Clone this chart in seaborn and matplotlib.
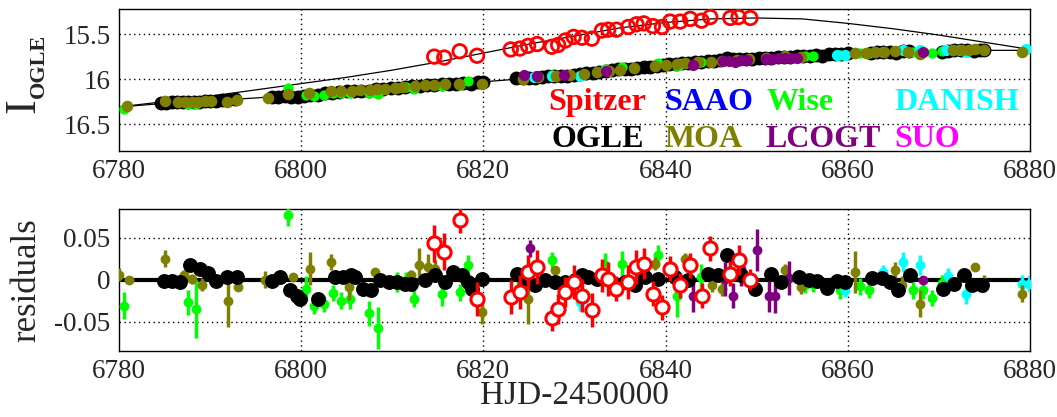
import matplotlib
matplotlib.use("Agg")
import matplotlib.pyplot as plt
import seaborn as sns
import numpy as np

# ---------------- data ----------------
# model curves (top panel)
model_t = [6780, 6785, 6790, 6795, 6800, 6805, 6810, 6815, 6820, 6825, 6830, 6835, 6840,
           6845, 6850, 6855, 6860, 6865, 6870, 6875, 6880]
ground_model = [16.31, 16.27, 16.24, 16.21, 16.17, 16.13, 16.10, 16.07, 16.03, 15.99, 15.95,
                15.89, 15.84, 15.80, 15.77, 15.74, 15.715, 15.70, 15.685, 15.68, 15.68]
spitzer_model = [16.31, 16.25, 16.19, 16.12, 16.05, 15.98, 15.90, 15.81, 15.71, 15.61, 15.52,
                 15.43, 15.37, 15.33, 15.32, 15.33, 15.38, 15.44, 15.51, 15.59, 15.67]

# OGLE (top)
ogle_t = [6784.6, 6785.2, 6785.8, 6786.4, 6787.0, 6787.6, 6788.2, 6788.8, 6789.4, 6790.0, 6790.6,
          6791.3, 6792.0, 6792.7,
          6796.8, 6797.5, 6798.2, 6798.9, 6799.6, 6800.3, 6801.0, 6801.8, 6802.6, 6803.4, 6804.2,
          6805.0, 6805.8, 6806.6, 6807.4, 6808.2, 6809.0, 6809.8, 6810.6, 6811.4, 6812.2, 6813.0,
          6813.8, 6814.6, 6815.4, 6816.2, 6817.0, 6817.8, 6818.6, 6819.4, 6820.0,
          6823.6, 6824.3, 6825.0, 6825.7, 6826.4, 6827.1, 6827.8, 6828.5, 6829.2, 6829.9, 6830.6,
          6831.3, 6832.0, 6832.7, 6833.4, 6834.1, 6834.8, 6835.5, 6836.2, 6836.9, 6837.6, 6838.3,
          6839.0, 6839.7, 6840.4, 6841.1, 6841.8, 6842.5, 6843.2, 6843.9, 6844.6, 6845.3, 6846.0,
          6846.7, 6847.4, 6848.1, 6848.8, 6849.5, 6850.2, 6850.9, 6851.6, 6852.3, 6853.0, 6853.7,
          6854.4, 6855.1, 6855.8, 6856.5, 6857.2, 6857.9, 6858.6, 6859.3, 6860.0, 6862.5, 6863.2,
          6863.9, 6864.6, 6865.3, 6866.0, 6866.7, 6870.3, 6871.0, 6871.7, 6872.4, 6873.1, 6873.8,
          6874.5, 6875.0]
ogle_mag = [16.27, 16.27, 16.26, 16.26, 16.25, 16.25, 16.25, 16.25, 16.24, 16.24, 16.24,
            16.23, 16.23, 16.22,
            16.20, 16.20, 16.19, 16.20, 16.20, 16.19, 16.18, 16.18, 16.16, 16.15, 16.14,
            16.13, 16.13, 16.13, 16.13, 16.11, 16.11, 16.10, 16.10, 16.09, 16.08, 16.08,
            16.07, 16.07, 16.06, 16.05, 16.05, 16.04, 16.05, 16.03, 16.03,
            15.99, 15.99, 15.99, 15.99, 15.98, 15.97, 15.97, 15.96, 15.96, 15.95, 15.94,
            15.93, 15.93, 15.92, 15.91, 15.90, 15.89, 15.89, 15.89, 15.88, 15.86, 15.86,
            15.85, 15.84, 15.83, 15.83, 15.82, 15.82, 15.81, 15.81, 15.80, 15.80, 15.79,
            15.76, 15.78, 15.78, 15.78, 15.78, 15.77, 15.76, 15.76, 15.75, 15.75, 15.75,
            15.74, 15.74, 15.74, 15.73, 15.74, 15.72, 15.72, 15.72, 15.71, 15.71, 15.70,
            15.70, 15.70, 15.71, 15.69, 15.69, 15.70, 15.69, 15.68, 15.68, 15.68, 15.69,
            15.68, 15.68]

# MOA (top)
moa_t = [6780.9, 6785.0, 6786.5, 6787.2, 6788.0, 6788.7, 6789.4, 6790.1, 6791.9, 6793.0, 6796.3,
         6798.5, 6800.9, 6803.3, 6804.4, 6805.6, 6806.5, 6807.5, 6808.3, 6809.2, 6810.3, 6811.2,
         6812.5, 6813.6, 6814.6, 6815.8, 6817.3, 6819.8, 6824.3, 6826.0, 6828.0, 6829.5, 6831.0,
         6832.5, 6833.8, 6835.0, 6836.5, 6838.8, 6840.0, 6841.3, 6842.1, 6843.5, 6845.0, 6846.2,
         6847.8, 6849.2, 6851.0, 6853.1, 6854.9, 6860.8, 6862.0, 6863.0, 6864.0, 6865.2, 6866.6,
         6867.9, 6871.5, 6872.5, 6873.3, 6874.0, 6874.9, 6879.1]
moa_mag = [16.30, 16.24, 16.26, 16.25, 16.25, 16.25, 16.24, 16.24, 16.25, 16.23, 16.21,
           16.17, 16.16, 16.13, 16.13, 16.13, 16.12, 16.12, 16.11, 16.11, 16.10, 16.09,
           16.08, 16.07, 16.07, 16.06, 16.05, 16.06, 16.00, 15.98, 15.96, 15.95, 15.94,
           15.92, 15.91, 15.90, 15.88, 15.85, 15.84, 15.83, 15.82, 15.81, 15.81, 15.80,
           15.79, 15.78, 15.77, 15.74, 15.75, 15.71, 15.71, 15.70, 15.70, 15.69, 15.70,
           15.72, 15.68, 15.68, 15.68, 15.67, 15.68, 15.70]

# Wise (top)
wise_t = [6780.5, 6787.6, 6788.4, 6798.5, 6800.5, 6801.4, 6802.5, 6803.5, 6804.4, 6805.3, 6807.4,
          6808.4, 6810.5, 6811.5, 6812.4, 6815.4, 6817.4, 6818.3, 6827.5, 6833.3, 6835.2, 6839.2,
          6841.2, 6843.9, 6855.3, 6856.2, 6859.1, 6861.3, 6862.3, 6867.2, 6868.3, 6869.2, 6870.3]
wise_mag = [16.33, 16.28, 16.28, 16.10, 16.18, 16.19, 16.18, 16.16, 16.16, 16.15, 16.16,
            16.17, 16.10, 16.09, 16.11, 16.08, 16.07, 16.02, 15.95, 15.89, 15.87, 15.82,
            15.85, 15.81, 15.74, 15.74, 15.73, 15.71, 15.71, 15.70, 15.70, 15.71, 15.69]

# LCOGT (top)
lcogt_t = [6824.4, 6825.9, 6828.8, 6833.5, 6843.0, 6846.3, 6847.0, 6847.6, 6848.3, 6848.9,
           6851.0, 6851.7, 6852.4, 6853.1, 6853.8, 6854.4, 6868.3]
lcogt_mag = [15.95, 15.97, 15.95, 15.91, 15.84, 15.80, 15.80, 15.81, 15.79, 15.79,
             15.78, 15.78, 15.77, 15.76, 15.76, 15.76, 15.70]

# DANISH (top)
danish_t = [6825.5, 6827.5, 6830.6, 6841.6, 6858.8, 6859.7, 6863.9, 6866.1, 6867.9, 6870.8,
            6871.5, 6872.3, 6873.0, 6879.6]
danish_mag = [15.98, 15.97, 15.97, 15.83, 15.73, 15.73, 15.70, 15.68, 15.68, 15.68,
              15.68, 15.68, 15.70, 15.67]

# Spitzer (top and residuals share the epochs)
spitzer_t = [6814.6, 6815.7, 6817.4, 6819.3, 6823.0, 6824.0, 6824.9, 6825.9, 6827.5, 6828.2,
             6829.0, 6829.9, 6830.8, 6831.9, 6833.0, 6833.7, 6834.6, 6835.9, 6836.8, 6837.6,
             6838.6, 6839.6, 6840.5, 6841.6, 6842.7, 6843.95, 6844.9, 6847.1, 6848.0, 6849.3]
spitzer_mag = [15.75, 15.76, 15.69, 15.74, 15.67, 15.66, 15.63, 15.61, 15.64, 15.62,
               15.57, 15.53, 15.54, 15.55, 15.46, 15.45, 15.45, 15.42, 15.39, 15.38,
               15.41, 15.42, 15.36, 15.36, 15.33, 15.35, 15.31, 15.32, 15.31, 15.32]
spitzer_res = [0.043, 0.033, 0.071, -0.023, -0.021, -0.015, 0.009, 0.015, -0.046, -0.035,
               -0.015, -0.003, -0.019, -0.036, 0.005, 0.001, -0.011, -0.003, 0.015, 0.019,
               -0.017, -0.033, 0.013, -0.007, 0.017, -0.019, 0.037, 0.007, 0.023, 0.0]
spitzer_err = [0.022, 0.022, 0.015, 0.02, 0.02, 0.02, 0.02, 0.02, 0.015, 0.018,
               0.018, 0.02, 0.02, 0.02, 0.02, 0.02, 0.015, 0.02, 0.02, 0.018,
               0.015, 0.015, 0.015, 0.015, 0.015, 0.015, 0.015, 0.015, 0.018, 0.012]

# residuals
ogle_rt = [6784.9, 6785.8, 6786.7, 6787.8, 6788.9, 6789.8, 6790.7, 6791.8, 6792.9, 6796.8, 6797.7,
           6798.8, 6799.5, 6799.9, 6801.8, 6803.7, 6804.6, 6805.5, 6805.9, 6806.8, 6807.7, 6808.7,
           6809.6, 6810.5, 6811.4, 6812.0, 6813.6, 6814.7, 6815.8, 6816.7, 6817.6, 6818.3, 6818.7,
           6819.8, 6823.7, 6824.6, 6825.7, 6826.8, 6827.9, 6829.0, 6830.1, 6830.8, 6831.5, 6832.5,
           6833.7, 6835.5, 6836.6, 6837.7, 6839.2, 6841.0, 6842.5, 6844.7, 6845.8, 6846.7, 6848.3,
           6849.8, 6851.6, 6852.7, 6854.6, 6855.7, 6856.6, 6857.7, 6858.8, 6859.7, 6862.6, 6863.7,
           6864.6, 6865.5, 6866.8, 6870.5, 6871.6, 6872.7, 6873.6, 6874.7]
ogle_res = [-0.002, -0.002, -0.003, 0.017, 0.013, 0.008, -0.002, 0.003, 0.003, -0.002, 0.003,
            -0.013, -0.019, -0.023, -0.023, 0.003, 0.003, 0.005, 0.003, -0.011, -0.013, -0.001,
            -0.003, -0.003, -0.005, -0.005, 0.0, 0.005, -0.003, 0.009, 0.005, -0.003, -0.011,
            0.001, 0.007, 0.001, -0.007, -0.001, -0.003, -0.003, -0.001, 0.005, 0.003, 0.001,
            0.001, -0.003, -0.007, 0.003, 0.001, 0.003, -0.001, 0.007, 0.005, 0.029, 0.005,
            -0.011, 0.007, -0.003, 0.003, 0.0, -0.002, -0.010, -0.002, -0.003, 0.002, 0.002,
            -0.003, -0.013, 0.005, -0.011, -0.005, 0.006, -0.007, -0.007]

moa_rt = [6780.0, 6781.1, 6785.05, 6787.1, 6788.0, 6789.1, 6792.0, 6793.1, 6796.0, 6799.1, 6801.0,
          6803.3, 6805.2, 6808.1, 6812.1, 6812.9, 6813.9, 6814.7, 6819.8, 6823.8, 6824.9, 6827.9,
          6838.8, 6842.1, 6845.05, 6846.2, 6853.1, 6854.9, 6860.8, 6865.2, 6865.9, 6867.9, 6874.0,
          6874.9, 6879.1]
moa_res = [0.006, 0.0, 0.025, 0.005, 0.001, -0.006, -0.026, -0.009, 0.0, 0.003, 0.013,
           0.021, -0.009, 0.009, 0.005, 0.017, 0.015, 0.013, -0.038, -0.011, -0.023, 0.011,
           0.019, 0.024, -0.007, -0.011, 0.011, -0.009, 0.009, 0.011, -0.006, -0.029, 0.015,
           -0.005, -0.017]
moa_err = [0.008, 0.004, 0.01, 0.006, 0.006, 0.008, 0.03, 0.005, 0.01, 0.004, 0.02,
           0.01, 0.015, 0.005, 0.006, 0.02, 0.015, 0.01, 0.015, 0.01, 0.03, 0.005,
           0.008, 0.008, 0.008, 0.008, 0.008, 0.008, 0.025, 0.01, 0.01, 0.016, 0.004,
           0.01, 0.01]

wise_res = [-0.031, -0.027, -0.035, 0.077, -0.011, -0.031, -0.029, -0.016, -0.025, -0.023, -0.040,
            -0.058, -0.003, -0.001, -0.023, -0.017, -0.015, 0.017, 0.023, 0.017, 0.019, 0.029,
            -0.019, 0.003, -0.006, -0.005, -0.013, -0.008, -0.012, -0.013, -0.013, -0.022, -0.004]
wise_err = [0.016, 0.015, 0.035, 0.013, 0.015, 0.01, 0.01, 0.01, 0.01, 0.012, 0.015,
            0.025, 0.012, 0.01, 0.01, 0.015, 0.01, 0.012, 0.01, 0.015, 0.015, 0.012,
            0.025, 0.015, 0.01, 0.01, 0.01, 0.01, 0.01, 0.01, 0.01, 0.01, 0.01]

lcogt_rt = [6825.1, 6843.0, 6846.5, 6847.4, 6848.3, 6850.0, 6851.3, 6852.0, 6853.5, 6868.3]
lcogt_res = [0.037, -0.019, 0.001, -0.019, 0.012, 0.035, -0.019, -0.020, 0.002, 0.0]
lcogt_err = [0.01, 0.02, 0.02, 0.015, 0.02, 0.025, 0.02, 0.02, 0.02, 0.004]

danish_rt = [6830.6, 6841.6, 6859.7, 6863.9, 6866.1, 6867.9, 6871.0, 6873.0, 6879.1, 6879.9]
danish_res = [-0.027, -0.010, -0.013, 0.009, 0.021, 0.017, 0.004, -0.017, -0.005, -0.005]
danish_err = [0.01, 0.01, 0.008, 0.008, 0.012, 0.012, 0.01, 0.012, 0.01, 0.01]

legend_row1 = ["Spitzer", "SAAO", "Wise", "DANISH"]
legend_row2 = ["OGLE", "MOA", "LCOGT", "SUO"]
colors = {"Spitzer": "#ff0000", "SAAO": "#0000ff", "Wise": "#00ff00", "DANISH": "#00ffff",
          "OGLE": "#000000", "MOA": "#808000", "LCOGT": "#800080", "SUO": "#ff00ff"}

xticks = [6780, 6800, 6820, 6840, 6860, 6880]
top_yticks = [15.5, 16, 16.5]
top_yticklabels = ["15.5", "16", "16.5"]
bot_yticks = [-0.05, 0, 0.05]
bot_yticklabels = ["-0.05", "0", "0.05"]

# ---------------- style ----------------
sns.set_style("white")
plt.rcParams["font.family"] = "serif"
plt.rcParams["font.serif"] = ["Liberation Serif", "DejaVu Serif"]
SERIF = ["Liberation Serif", "DejaVu Serif"]

fig = plt.figure(figsize=(10.57, 4.17), dpi=100)
ax1 = fig.add_axes([0.1126, 0.6379, 0.8619, 0.3405])
ax2 = fig.add_axes([0.1126, 0.1583, 0.8619, 0.3405])

grid_kw = dict(color="black", linestyle=(0, (1, 2.5)), linewidth=1.0)

# ---------------- top panel ----------------
sns.lineplot(x=model_t, y=spitzer_model, ax=ax1, color="black", linewidth=0.9, sort=False,
             estimator=None, zorder=2)
sns.lineplot(x=model_t, y=ground_model, ax=ax1, color="black", linewidth=0.9, sort=False,
             estimator=None, zorder=2)
sns.scatterplot(x=ogle_t, y=ogle_mag, ax=ax1, color=colors["OGLE"], s=100, linewidth=0, zorder=3)
sns.scatterplot(x=wise_t, y=wise_mag, ax=ax1, color=colors["Wise"], s=55, linewidth=0, zorder=4)
sns.scatterplot(x=danish_t, y=danish_mag, ax=ax1, color=colors["DANISH"], s=65, linewidth=0, zorder=4)
sns.scatterplot(x=moa_t, y=moa_mag, ax=ax1, color=colors["MOA"], s=70, linewidth=0, zorder=5)
sns.scatterplot(x=lcogt_t, y=lcogt_mag, ax=ax1, color=colors["LCOGT"], s=65, linewidth=0, zorder=6)
sns.scatterplot(x=spitzer_t, y=spitzer_mag, ax=ax1, facecolor="none", edgecolor=colors["Spitzer"],
                s=95, linewidth=2.0, zorder=7)

ax1.set_xlim(6780, 6880)
ax1.set_ylim(16.8, 15.22)
ax1.set_xticks(xticks)
ax1.set_yticks(top_yticks)
ax1.set_yticklabels(top_yticklabels)
for v in xticks[1:-1]:
    ax1.axvline(v, zorder=1, **grid_kw)
for v in top_yticks:
    ax1.axhline(v, zorder=1, **grid_kw)

xs = [0.471, 0.599, 0.711, 0.851]
for name, x in zip(legend_row1, xs):
    ax1.text(x, 0.289, name, transform=ax1.transAxes, color=colors[name], fontsize=23,
             fontweight="bold", family=SERIF, ha="left", va="baseline", zorder=10)
for name, x in zip(legend_row2, [0.475, 0.599, 0.710, 0.851]):
    ax1.text(x, 0.028, name, transform=ax1.transAxes, color=colors[name], fontsize=23,
             fontweight="bold", family=SERIF, ha="left", va="baseline", zorder=10)

# ---------------- bottom panel ----------------
ax2.axhline(0, color="black", linewidth=3, zorder=2)
err_kw = dict(fmt="none", elinewidth=2.5, capsize=0)
ax2.errorbar(wise_t, wise_res, yerr=wise_err, ecolor=colors["Wise"], zorder=3, **err_kw)
sns.scatterplot(x=wise_t, y=wise_res, ax=ax2, color=colors["Wise"], s=50, linewidth=0, zorder=3)
ax2.errorbar(danish_rt, danish_res, yerr=danish_err, ecolor=colors["DANISH"], zorder=3, **err_kw)
sns.scatterplot(x=danish_rt, y=danish_res, ax=ax2, color=colors["DANISH"], s=50, linewidth=0, zorder=3)
ax2.errorbar(moa_rt, moa_res, yerr=moa_err, ecolor=colors["MOA"], zorder=4, **err_kw)
sns.scatterplot(x=moa_rt, y=moa_res, ax=ax2, color=colors["MOA"], s=50, linewidth=0, zorder=4)
ax2.errorbar(lcogt_rt, lcogt_res, yerr=lcogt_err, ecolor=colors["LCOGT"], zorder=4, **err_kw)
sns.scatterplot(x=lcogt_rt, y=lcogt_res, ax=ax2, color=colors["LCOGT"], s=50, linewidth=0, zorder=4)
sns.scatterplot(x=ogle_rt, y=ogle_res, ax=ax2, color=colors["OGLE"], s=115, linewidth=0, zorder=5)
ax2.errorbar(spitzer_t, spitzer_res, yerr=spitzer_err, ecolor=colors["Spitzer"], zorder=6, **err_kw)
sns.scatterplot(x=spitzer_t, y=spitzer_res, ax=ax2, facecolor="white", edgecolor=colors["Spitzer"],
                s=90, linewidth=2.2, zorder=7)

ax2.set_xlim(6780, 6880)
ax2.set_ylim(-0.085, 0.084)
ax2.set_xticks(xticks)
ax2.set_yticks(bot_yticks)
ax2.set_yticklabels(bot_yticklabels)
for v in xticks[1:-1]:
    ax2.axvline(v, zorder=1, **grid_kw)
for v in [-0.05, 0.05]:
    ax2.axhline(v, zorder=1, **grid_kw)

for ax in (ax1, ax2):
    ax.tick_params(axis="both", labelsize=19.5, length=0, pad=6)
    for lab in ax.get_xticklabels() + ax.get_yticklabels():
        lab.set_family(SERIF)
    for sp in ax.spines.values():
        sp.set_color("black")
        sp.set_linewidth(1.0)
    ax.set_xlabel("")
    ax.set_ylabel("")

ax2.set_xlabel("HJD-2450000", fontsize=24, family=SERIF)
ax2.xaxis.set_label_coords(0.5, -0.205)
ax2.set_ylabel("residuals", fontsize=25, labelpad=8, family=SERIF)

# I_OGLE label
fig.text(23 / 1057, 1 - 106 / 417, "I", rotation=90, fontsize=32, family=SERIF,
         ha="center", va="center")
fig.text(39 / 1057, 1 - 66 / 417, "OGLE", rotation=90, fontsize=16, fontweight="bold",
         family=SERIF, ha="center", va="center")

fig.savefig("out.png", dpi=100)
